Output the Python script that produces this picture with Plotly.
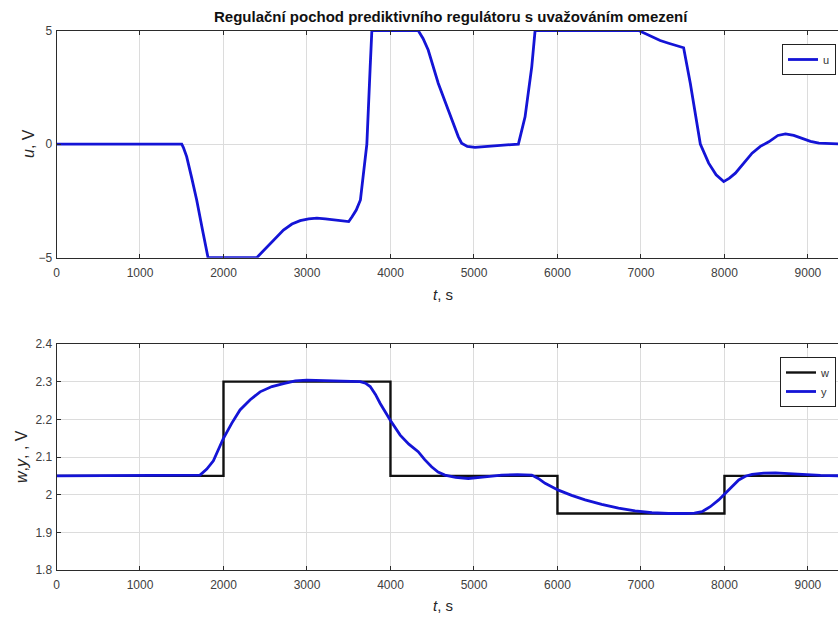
import plotly.graph_objects as go

# Control signal u(t)
t_u = [0, 1500, 1520, 1559, 1620, 1679, 1750, 1815, 2398, 2450, 2518, 2620, 2718, 2820, 2918,
       3020, 3118, 3220, 3317, 3420, 3500, 3540, 3590, 3640, 3676, 3717, 3757, 3777, 4332,
       4390, 4452, 4572, 4692, 4812, 4852, 4920, 5012, 5200, 5400, 5532, 5612, 5692, 5732,
       6971, 7050, 7131, 7230, 7331, 7430, 7511, 7591, 7671, 7711, 7811, 7900, 7991, 8060,
       8131, 8230, 8331, 8430, 8531, 8640, 8731, 8830, 8931, 9030, 9131, 9250, 9400]
u = [0, 0, -0.15, -0.55, -1.5, -2.46, -3.8, -5, -5, -4.8, -4.51, -4.15, -3.78, -3.52, -3.37,
     -3.29, -3.26, -3.29, -3.34, -3.38, -3.41, -3.2, -2.9, -2.46, -1.27, 0, 3.4, 5, 5,
     4.65, 4.14, 2.68, 1.5, 0.33, 0.04, -0.1, -0.14, -0.1, -0.04, 0, 1.2, 3.4, 5,
     5, 4.87, 4.73, 4.56, 4.44, 4.33, 4.24, 2.68, 0.77, 0, -0.84, -1.35, -1.65, -1.5,
     -1.28, -0.85, -0.4, -0.1, 0.1, 0.38, 0.45, 0.38, 0.26, 0.12, 0.04, 0.01, 0]

# Reference w(t) (step changes)
t_w = [0, 2000, 2000, 4000, 4000, 6000, 6000, 8000, 8000, 9400]
w = [2.05, 2.05, 2.3, 2.3, 2.05, 2.05, 1.95, 1.95, 2.05, 2.05]

# Output y(t)
t_y = [0, 1650, 1719, 1800, 1879, 1998, 2100, 2198, 2320, 2438, 2580, 2718, 2860, 2998, 3160,
       3317, 3480, 3637, 3700, 3757, 3820, 3877, 3996, 4116, 4220, 4332, 4410, 4492, 4570,
       4652, 4780, 4932, 5130, 5332, 5520, 5692, 5770, 5852, 6011, 6170, 6331, 6530, 6731,
       6930, 7131, 7330, 7531, 7640, 7731, 7830, 7931, 8011, 8090, 8171, 8250, 8331, 8470,
       8611, 8770, 8931, 9150, 9400]
y = [2.05, 2.05, 2.052, 2.068, 2.09, 2.149, 2.19, 2.225, 2.252, 2.273, 2.287, 2.295, 2.302,
     2.304, 2.303, 2.301, 2.3, 2.3, 2.296, 2.287, 2.266, 2.242, 2.198, 2.158, 2.134, 2.114,
     2.093, 2.074, 2.06, 2.052, 2.046, 2.043, 2.047, 2.052, 2.053, 2.052, 2.043, 2.03, 2.012,
     1.998, 1.986, 1.974, 1.964, 1.957, 1.952, 1.95, 1.95, 1.951, 1.955, 1.968, 1.986, 2.004,
     2.022, 2.039, 2.049, 2.054, 2.057, 2.058, 2.056, 2.054, 2.051, 2.05]

x_ticks = [0, 1000, 2000, 3000, 4000, 5000, 6000, 7000, 8000, 9000]
u_ticks = [-5, 0, 5]
y_ticks = [1.8, 1.9, 2.0, 2.1, 2.2, 2.3, 2.4]
y_tick_text = ["1.8", "1.9", "2", "2.1", "2.2", "2.3", "2.4"]

W, H = 838, 618
X_MAX = 9360
BLUE = "#1414d6"
FONT = "Liberation Sans, Arial, sans-serif"
TICK_COLOR = "#404040"

fig = go.Figure()
fig.add_trace(go.Scatter(x=t_u, y=u, mode="lines", name="u", line=dict(color=BLUE, width=2.8),
                         xaxis="x", yaxis="y", legend="legend"))
fig.add_trace(go.Scatter(x=t_w, y=w, mode="lines", name="w", line=dict(color="#111111", width=2.4),
                         xaxis="x2", yaxis="y2", legend="legend2"))
fig.add_trace(go.Scatter(x=t_y, y=y, mode="lines", name="y", line=dict(color=BLUE, width=2.8),
                         xaxis="x2", yaxis="y2", legend="legend2"))

left = 56.5 / W
top_dom = [1 - 257.7 / H, 1 - 30.5 / H]
bot_dom = [1 - 570 / H, 1 - 344 / H]

common_x = dict(range=[0, X_MAX], tickvals=x_ticks, showgrid=True, gridcolor="#dcdcdc", gridwidth=1,
                showline=True, linecolor="#2b2b2b", linewidth=1, mirror="ticks", ticks="inside",
                ticklen=4, tickcolor="#2b2b2b", zeroline=False, domain=[left, 1], automargin=False,
                ticklabelstandoff=4, tickfont=dict(family=FONT, size=12, color=TICK_COLOR))
common_y = dict(showgrid=True, gridcolor="#dcdcdc", gridwidth=1, showline=True, linecolor="#2b2b2b",
                linewidth=1, ticks="inside", ticklen=4, tickcolor="#2b2b2b", zeroline=False,
                automargin=False, ticklabelstandoff=1, tickfont=dict(family=FONT, size=12, color=TICK_COLOR))

legend_style = dict(xanchor="right", yanchor="top", bgcolor="white", bordercolor="#222222",
                    borderwidth=1, font=dict(family=FONT, size=11, color="#333"),
                    tracegroupgap=0, itemwidth=30)

fig.update_layout(
    template="none",
    width=W, height=H,
    margin=dict(l=0, r=0, t=0, b=0, autoexpand=False),
    paper_bgcolor="white", plot_bgcolor="white",
    xaxis=dict(common_x, anchor="y"),
    yaxis=dict(common_y, range=[-5, 5], tickvals=u_ticks, domain=top_dom, anchor="x"),
    xaxis2=dict(common_x, anchor="y2"),
    yaxis2=dict(common_y, range=[1.8, 2.4], tickvals=y_ticks, ticktext=y_tick_text, domain=bot_dom, anchor="x2"),
    legend=dict(legend_style, x=836 / W, y=1 - 44 / H),
    legend2=dict(legend_style, x=836 / W, y=1 - 357 / H),
    showlegend=True,
)

ann = dict(xref="paper", yref="paper", showarrow=False, xanchor="center", yanchor="middle",
           font=dict(family=FONT, size=15, color="#262626"))
fig.add_annotation(ann, x=451 / W, y=1 - 16 / H, text="<b>Regulační pochod prediktivního regulátoru s uvažováním omezení</b>",
                   font=dict(family=FONT, size=15, color="#111"))
fig.add_annotation(ann, x=443 / W, y=1 - 294 / H, text="<i>t</i>, s")
fig.add_annotation(ann, x=443 / W, y=1 - 605 / H, text="<i>t</i>, s")
fig.add_annotation(ann, x=28 / W, y=1 - 144 / H, text="<i>u</i>, V", textangle=-90, font=dict(family=FONT, size=16, color="#262626"))
fig.add_annotation(ann, x=21 / W, y=1 - 457 / H, text="<i>w</i>,<i>y</i>, , V", textangle=-90, font=dict(family=FONT, size=16, color="#262626"))

fig.write_html("out.html")
